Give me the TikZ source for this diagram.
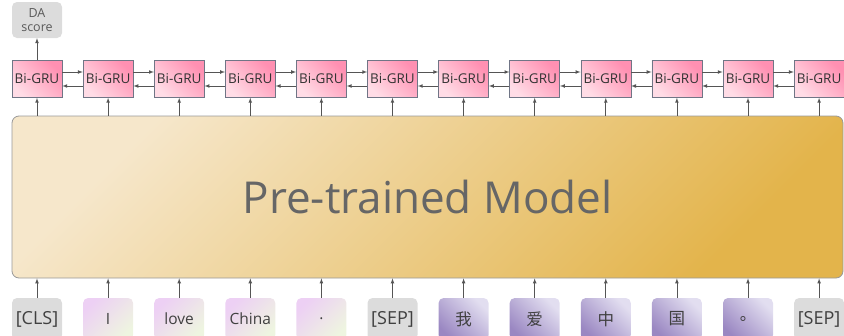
\documentclass[tikz,border=0pt]{standalone}
\usepackage{fontspec}
\setmainfont{Open Sans}
\newfontfamily\cjk{Noto Sans CJK SC}
\definecolor{arrowgray}{HTML}{555555}
\definecolor{textgray}{HTML}{666666}
\definecolor{boxgray}{HTML}{DCDCDC}
\definecolor{modellight}{HTML}{F6E7CB}
\definecolor{modeldark}{HTML}{E3B44B}
\definecolor{grulight}{HTML}{FFDCE6}
\definecolor{grudark}{HTML}{FF90B2}
\definecolor{gruborder}{HTML}{707586}
\definecolor{enlight}{HTML}{EDD0F4}
\definecolor{endark}{HTML}{EEF5E0}
\definecolor{zhlight}{HTML}{E2DEF0}
\definecolor{zhdark}{HTML}{9A87C2}
\tikzset{
  grubox/.style={draw=gruborder, line width=0.6pt, minimum width=50pt, minimum height=37pt,
    inner sep=0pt, top color=grudark, bottom color=grulight, shading angle=-45,
    text=black!80, font=\fontsize{13.5}{15}\selectfont},
  tokbox/.style={rounded corners=5pt, minimum width=50pt, minimum height=42pt,
    inner sep=0pt, text=black!75},
  specialtok/.style={tokbox, fill=boxgray, font=\fontsize{18}{20}\selectfont},
  entok/.style={tokbox, top color=enlight, bottom color=endark, shading angle=45,
    font=\fontsize{15.5}{17}\selectfont},
  zhtok/.style={tokbox, top color=zhlight, bottom color=zhdark, shading angle=-45,
    font=\cjk\fontsize{16.5}{18}\selectfont},
  link/.style={-latex, draw=arrowgray, line width=0.7pt},
}
\begin{document}
\begin{tikzpicture}[x=1pt, y=-1pt]
\useasboundingbox (0,0) rectangle (844,335);

% pre-trained model
\node[draw=black!40, line width=0.8pt, rounded corners=7pt, minimum width=831pt, minimum height=162pt,
  top color=modellight, bottom color=modeldark, shading angle=45,
  text=textgray, font=\fontsize{44}{48}\selectfont] (model) at (427.5,197) {Pre-trained Model};

% Bi-GRU layer and input tokens
\foreach \i in {0,...,11} {
  \node[grubox] (gru\i) at ({37+71.1*\i},79) {Bi-GRU};
}
\foreach \i/\tok/\sty in {0/[CLS]/specialtok, 1/I/entok, 2/love/entok, 3/China/entok, 4/./entok,
    5/[SEP]/specialtok, 6/我/zhtok, 7/爱/zhtok, 8/中/zhtok, 9/国/zhtok, 10/。/zhtok, 11/[SEP]/specialtok} {
  \node[\sty] (tok\i) at ({37+71.1*\i},319) {\tok};
  \draw[link] (tok\i.north) -- (tok\i.north |- model.south);
  \draw[link] (gru\i.south |- model.north) -- (gru\i.south);
}

% recurrent connections
\foreach \i [evaluate=\i as \j using int(\i+1)] in {0,...,10} {
  \draw[link] ([yshift=7pt]gru\i.east) -- ([yshift=7pt]gru\j.west);
  \draw[link] ([yshift=-7pt]gru\j.west) -- ([yshift=-7pt]gru\i.east);
}

% output
\node[rounded corners=5pt, fill=boxgray, minimum width=50pt, minimum height=36pt, inner sep=0pt,
  align=center, text=black!65, font=\fontsize{12.5}{14}\selectfont] (da) at (37,20) {DA\\score};
\draw[link] (gru0.north) -- (da.south);
\end{tikzpicture}
\end{document}
